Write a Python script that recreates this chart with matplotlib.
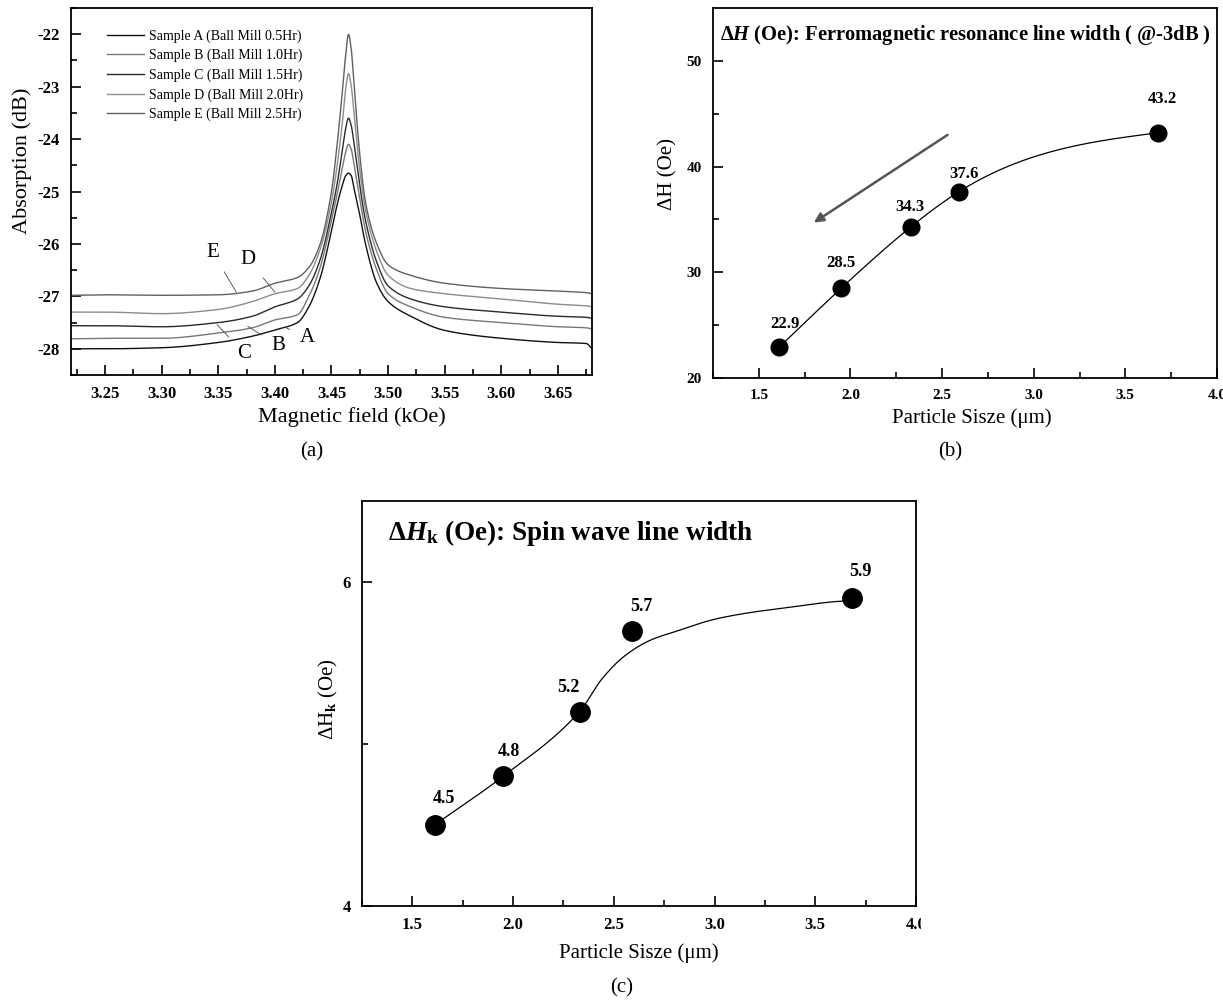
import numpy as np
import matplotlib
matplotlib.use("Agg")
import matplotlib.pyplot as plt
from matplotlib.patches import Rectangle

plt.rcParams['font.family'] = ['Liberation Serif', 'DejaVu Serif']
plt.rcParams['mathtext.fontset'] = 'custom'
plt.rcParams['mathtext.rm'] = 'Liberation Serif'
plt.rcParams['mathtext.it'] = 'Liberation Serif:italic'
plt.rcParams['mathtext.bf'] = 'Liberation Serif:bold'
plt.rcParams['mathtext.bfit'] = 'Liberation Serif:italic:bold'
plt.rcParams['axes.unicode_minus'] = False

# ---------------- data ----------------
# (a) absorption curves
field = [3.22, 3.25, 3.30, 3.35, 3.38, 3.40, 3.42, 3.43, 3.44, 3.45, 3.455,
         3.46, 3.4625, 3.465, 3.4675, 3.47, 3.475, 3.48, 3.49, 3.50, 3.52,
         3.55, 3.60, 3.65, 3.675, 3.68]
abs_a = [-28.00, -28.00, -27.98, -27.88, -27.76, -27.64, -27.50, -27.20, -26.65,
         -25.75, -25.25, -24.85, -24.70, -24.65, -24.70, -24.95, -25.45, -26.00,
         -26.75, -27.10, -27.38, -27.65, -27.80, -27.88, -27.90, -28.00]
abs_b = [-27.81, -27.80, -27.80, -27.70, -27.60, -27.45, -27.35, -27.00, -26.45,
         -25.55, -25.05, -24.50, -24.25, -24.10, -24.20, -24.50, -25.15, -25.75,
         -26.50, -26.95, -27.20, -27.40, -27.50, -27.58, -27.60, -27.62]
abs_c = [-27.56, -27.56, -27.58, -27.50, -27.38, -27.20, -27.05, -26.80, -26.30,
         -25.40, -24.85, -24.15, -23.80, -23.60, -23.75, -24.10, -24.90, -25.55,
         -26.35, -26.80, -27.05, -27.20, -27.30, -27.38, -27.40, -27.42]
abs_d = [-27.30, -27.30, -27.33, -27.25, -27.10, -26.95, -26.85, -26.60, -26.10,
         -25.20, -24.50, -23.60, -23.05, -22.75, -23.00, -23.55, -24.60, -25.35,
         -26.15, -26.60, -26.85, -26.95, -27.05, -27.15, -27.18, -27.20]
abs_e = [-26.98, -26.97, -26.98, -26.97, -26.90, -26.75, -26.64, -26.45, -26.00,
         -25.00, -24.10, -23.00, -22.40, -22.00, -22.30, -23.00, -24.30, -25.20,
         -26.00, -26.40, -26.60, -26.75, -26.85, -26.90, -26.93, -26.95]
sample_names = ['Sample A (Ball Mill 0.5Hr)', 'Sample B (Ball Mill 1.0Hr)',
                'Sample C (Ball Mill 1.5Hr)', 'Sample D (Ball Mill 2.0Hr)',
                'Sample E (Ball Mill 2.5Hr)']

# (b), (c) line widths vs particle size
size_um = [1.61, 1.95, 2.33, 2.59, 3.68]
dH = [22.9, 28.5, 34.3, 37.6, 43.2]
dHk = [4.5, 4.8, 5.2, 5.7, 5.9]
# fitted curve of (c)
fit_x = [1.61, 1.95, 2.33, 2.44, 2.55, 2.68, 2.82, 3.00, 3.17, 3.35, 3.61, 3.68]
fit_y = [4.50, 4.80, 5.20, 5.40, 5.54, 5.64, 5.70, 5.77, 5.81, 5.84, 5.88, 5.885]

# label offsets (points) for the value tags
off_b = [(4, 17), (0, 18), (-1, 14), (4, 13), (3, 24)]
off_c = [(7, 19), (4, 18), (-8, 17), (7, 17), (6.5, 19)]


def spline(x, y, num=400):
    # natural cubic spline for smooth drawing
    x = np.asarray(x, float)
    y = np.asarray(y, float)
    n = len(x)
    h = np.diff(x)
    A = np.zeros((n, n))
    r = np.zeros(n)
    A[0, 0] = A[-1, -1] = 1
    for i in range(1, n - 1):
        A[i, i - 1] = h[i - 1]
        A[i, i] = 2 * (h[i - 1] + h[i])
        A[i, i + 1] = h[i]
        r[i] = 6 * ((y[i + 1] - y[i]) / h[i] - (y[i] - y[i - 1]) / h[i - 1])
    M = np.linalg.solve(A, r)
    xs = np.linspace(x[0], x[-1], num)
    k = np.clip(np.searchsorted(x, xs) - 1, 0, n - 2)
    t0, t1 = x[k], x[k + 1]
    hh = t1 - t0
    a = (t1 - xs) / hh
    b = (xs - t0) / hh
    ys = a * y[k] + b * y[k + 1] + ((a ** 3 - a) * M[k] + (b ** 3 - b) * M[k + 1]) * hh ** 2 / 6
    return xs, ys


def pchip(x, y, num=400):
    # monotone cubic (no overshoot)
    x = np.asarray(x, float)
    y = np.asarray(y, float)
    n = len(x)
    h = np.diff(x)
    d = np.diff(y) / h
    m = np.zeros(n)
    m[0], m[-1] = d[0], d[-1]
    for i in range(1, n - 1):
        if d[i - 1] * d[i] <= 0:
            m[i] = 0
        else:
            w1 = 2 * h[i] + h[i - 1]
            w2 = h[i] + 2 * h[i - 1]
            m[i] = (w1 + w2) / (w1 / d[i - 1] + w2 / d[i])
    xs = np.linspace(x[0], x[-1], num)
    k = np.clip(np.searchsorted(x, xs) - 1, 0, n - 2)
    hh = h[k]
    t = (xs - x[k]) / hh
    h00 = 2 * t ** 3 - 3 * t ** 2 + 1
    h10 = t ** 3 - 2 * t ** 2 + t
    h01 = -2 * t ** 3 + 3 * t ** 2
    h11 = t ** 3 - t ** 2
    ys = h00 * y[k] + h10 * hh * m[k] + h01 * y[k + 1] + h11 * hh * m[k + 1]
    return xs, ys


W, H = 1223, 1002
fig = plt.figure(figsize=(W / 100, H / 100), dpi=100)


def axes_px(l, t, r, b):
    return fig.add_axes([l / W, 1 - b / H, (r - l) / W, (b - t) / H])


def style(ax, size):
    for s in ax.spines.values():
        s.set_linewidth(1.3)
    ax.tick_params(which='both', direction='in', top=False, right=False,
                   labelsize=size, width=1.2, pad=8)
    ax.tick_params(which='major', length=7)
    ax.tick_params(which='minor', length=4)
    for lab in ax.get_xticklabels() + ax.get_yticklabels():
        lab.set_fontweight('bold')


# ---------------- (a) ----------------
ax1 = axes_px(71, 8, 592, 375)
colors = ['#111111', '#777777', '#2a2a2a', '#8c8c8c', '#606060']
series = [abs_a, abs_b, abs_c, abs_d, abs_e]
for vals, c, name in zip(series, colors, sample_names):
    xs, ys = pchip(field, vals, 900)
    ax1.plot(xs, ys, color=c, lw=1.0, label=name)
ax1.set_xlim(3.22, 3.68)
ax1.set_ylim(-28.5, -21.5)
ax1.set_xticks(np.arange(3.25, 3.66, 0.05))
ax1.set_xticks(np.arange(3.225, 3.68, 0.025), minor=True)
ax1.set_yticks(np.arange(-28, -21.9, 1))
ax1.set_yticks(np.arange(-28.5, -21.4, 0.5), minor=True)
ax1.set_xticklabels(['%.2f' % v for v in np.arange(3.25, 3.66, 0.05)])
ax1.set_yticklabels(['%d' % v for v in np.arange(-28, -21.9, 1)])
style(ax1, 12)
ax1.set_xlabel('Magnetic field (kOe)', fontsize=16)
ax1.set_ylabel('Absorption (dB)', fontsize=16)
ax1.xaxis.set_label_coords(0.539, -0.114)
ax1.xaxis.label.set_va('center')
ax1.yaxis.set_label_coords(-0.094, 0.583)
ax1.yaxis.label.set_va('center')
ax1.legend(loc='upper left', bbox_to_anchor=(0.069, 0.942), frameon=False,
           fontsize=10, handlelength=2.7, handletextpad=0.35, labelspacing=0.44,
           borderpad=0, borderaxespad=0)

# curve letters with leader lines
letters = ['E', 'D', 'C', 'B', 'A']
letter_xy = [(3.345, -26.16), (3.376, -26.29), (3.373, -28.09), (3.403, -27.94), (3.429, -27.79)]
point_xy = [(3.366, -26.92), (3.400, -26.92), (3.349, -27.54), (3.376, -27.57), (3.409, -27.59)]
for t, txy, pxy in zip(letters, letter_xy, point_xy):
    ax1.annotate(t, xy=pxy, xytext=txy, fontsize=15, ha='center', va='center',
                 arrowprops=dict(arrowstyle='-', lw=0.6, color='#444444',
                                 shrinkA=6, shrinkB=0))

# ---------------- (b) ----------------
ax2 = axes_px(713, 8, 1217, 378)
xs, ys = spline(size_um, dH)
ax2.plot(xs, ys, color='black', lw=0.9)
ax2.plot(size_um, dH, 'o', color='black', ms=12)
for x, y, o in zip(size_um, dH, off_b):
    ax2.annotate('%.1f' % y, (x, y), xytext=o, textcoords='offset points',
                 ha='center', va='center', fontsize=12, fontweight='bold')
ax2.annotate('', xy=(1.80, 34.7), xytext=(2.53, 43.0),
             arrowprops=dict(arrowstyle='-|>', color='#555555', lw=1.8,
                             mutation_scale=14, shrinkA=0, shrinkB=0))
ax2.set_xlim(1.25, 4.0)
ax2.set_ylim(20, 55)
ax2.set_xticks(np.arange(1.5, 4.01, 0.5))
ax2.set_xticks(np.arange(1.25, 4.0, 0.25), minor=True)
ax2.set_yticks([20, 30, 40, 50])
ax2.set_yticks(np.arange(20, 55, 5), minor=True)
ax2.set_xticklabels(['%.1f' % v for v in np.arange(1.5, 4.01, 0.5)])
style(ax2, 11)
ax2.set_xlabel('Particle Sisze (\u03bcm)', fontsize=15)
ax2.set_ylabel('\u0394H (Oe)', fontsize=15)
ax2.xaxis.set_label_coords(0.514, -0.108)
ax2.xaxis.label.set_va('center')
ax2.yaxis.set_label_coords(-0.089, 0.55)
ax2.yaxis.label.set_va('center')
ax2.text(0.014, 0.927, r'$\mathbf{\Delta}\mathbfit{H}$ (Oe): Ferromagnetic resonance line width ( @-3dB )',
         transform=ax2.transAxes, fontsize=14.8, fontweight='bold', va='center')

# ---------------- (c) ----------------
ax3 = axes_px(362, 501, 916, 906)
xs, ys = pchip(fit_x, fit_y)
ax3.plot(xs, ys, color='black', lw=0.9)
ax3.plot(size_um, dHk, 'o', color='black', ms=14)
for x, y, o in zip(size_um, dHk, off_c):
    ax3.annotate('%.1f' % y, (x, y), xytext=o, textcoords='offset points',
                 ha='center', va='center', fontsize=13, fontweight='bold')
ax3.set_xlim(1.25, 4.0)
ax3.set_ylim(4, 6.5)
ax3.set_xticks(np.arange(1.5, 4.01, 0.5))
ax3.set_xticks(np.arange(1.25, 4.0, 0.25), minor=True)
ax3.set_yticks([4, 6])
ax3.set_yticks([5], minor=True)
ax3.set_xticklabels(['%.1f' % v for v in np.arange(1.5, 4.01, 0.5)])
ax3.set_yticklabels(['4', '6'])
style(ax3, 12)
ax3.set_xlabel('Particle Sisze (\u03bcm)', fontsize=15)
ax3.set_ylabel(r'$\Delta\mathrm{H}_\mathbf{k}$ (Oe)', fontsize=15)
ax3.xaxis.set_label_coords(0.5, -0.116)
ax3.xaxis.label.set_va('center')
ax3.yaxis.set_label_coords(-0.061, 0.51)
ax3.yaxis.label.set_va('center')
ax3.text(0.047, 0.921, r'$\mathbf{\Delta}\mathbfit{H}_\mathbf{k}$ (Oe): Spin wave line width',
         transform=ax3.transAxes, fontsize=19.5, fontweight='bold', va='center')

# crop of the last tick label of (c), as in the source figure
fig.patches.append(Rectangle((921 / W, 1 - 945 / H), 0.2, 40 / H, transform=fig.transFigure,
                             facecolor='white', edgecolor='none', zorder=10))

fig.text(312 / W, 1 - 452 / H, '(a)', fontsize=15, ha='center', va='center')
fig.text(950 / W, 1 - 452 / H, '(b)', fontsize=15, ha='center', va='center')
fig.text(622 / W, 1 - 988 / H, '(c)', fontsize=15, ha='center', va='center')

fig.savefig('out.png', dpi=100)
